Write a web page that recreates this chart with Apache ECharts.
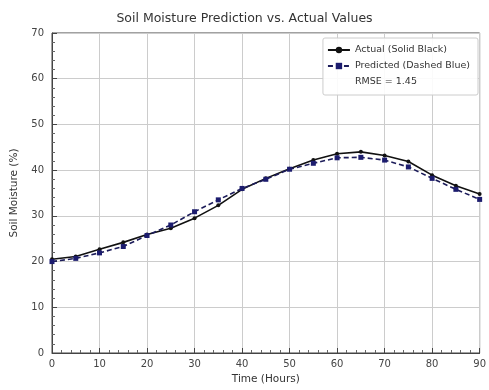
<!DOCTYPE html>
<html><head><meta charset="utf-8">
<script src="https://cdn.jsdelivr.net/npm/echarts@6/dist/echarts.min.js"></script>
<style>html,body{margin:0;padding:0;background:#fff}#c{width:489px;height:390px}</style>
</head><body><div id="c"></div>
<script>
const hours = [0,5,10,15,20,25,30,35,40,45,50,55,60,65,70,75,80,85,90];
const actual = [20.5,21.1,22.7,24.2,25.9,27.3,29.5,32.3,35.8,38.2,40.3,42.2,43.6,44.0,43.2,41.9,38.9,36.6,34.8];
const predicted = [20.0,20.7,21.9,23.3,25.7,28.0,30.9,33.5,36.0,38.0,40.2,41.5,42.7,42.8,42.2,40.7,38.2,35.8,33.6];
const xTicks = [0,10,20,30,40,50,60,70,80,90];
const yTicks = [0,10,20,30,40,50,60,70];
const rmseLabel = 'RMSE = 1.45';
const F = 'DejaVu Sans';
const chart = echarts.init(document.getElementById('c'));
const pair = a => a.map((v,i)=>[hours[i], v]);
chart.setOption({
  animation:false,
  backgroundColor:'#fff',
  title:{text:'Soil Moisture Prediction vs. Actual Values',left:'center',top:7,
    textStyle:{fontFamily:F,fontSize:12.5,fontWeight:'normal',color:'#333'}},
  grid:{left:52,right:7,top:33,bottom:37,show:true,borderColor:'#444',borderWidth:1},
  legend:{
    right:11,top:38,orient:'vertical',itemWidth:22,itemHeight:8,itemGap:6,
    backgroundColor:'rgba(255,255,255,0.9)',borderColor:'#ccc',borderWidth:1,borderRadius:2,padding:[7,8,8,4],
    textStyle:{fontFamily:F,fontSize:9.5,color:'#333'},
    data:[{name:'Actual (Solid Black)'},{name:'Predicted (Dashed Blue)'},{name:rmseLabel,icon:'none'}]
  },
  xAxis:{type:'value',min:0,max:90,interval:10,
    name:'Time (Hours)',nameLocation:'middle',nameGap:20,
    nameTextStyle:{fontFamily:F,fontSize:10.5,color:'#333'},
    axisLine:{lineStyle:{color:'#444'}},
    axisTick:{inside:true,length:5,lineStyle:{color:'#444'}},
    minorTick:{show:true,splitNumber:5,length:3,lineStyle:{color:'#666'}},
    axisLabel:{fontFamily:F,fontSize:10,color:'#444',margin:6,formatter:v=>xTicks.includes(v)?String(v):''},
    splitLine:{show:true,lineStyle:{color:'#ccc',width:1}}},
  yAxis:{type:'value',min:0,max:70,interval:10,
    name:'Soil Moisture (%)',nameLocation:'middle',nameGap:32,
    nameTextStyle:{fontFamily:F,fontSize:10.5,color:'#333'},
    axisLine:{show:true,lineStyle:{color:'#444'}},
    axisTick:{show:true,inside:true,length:5,lineStyle:{color:'#444'}},
    minorTick:{show:true,splitNumber:5,length:3,lineStyle:{color:'#666'}},
    axisLabel:{fontFamily:F,fontSize:10,color:'#444',margin:8,formatter:v=>yTicks.includes(v)?String(v):''},
    splitLine:{show:true,lineStyle:{color:'#ccc',width:1}}},
  series:[
    {name:'Actual (Solid Black)',type:'line',data:pair(actual),
      symbol:'circle',symbolSize:4,
      lineStyle:{color:'#111',width:1.6,type:'solid'},
      itemStyle:{color:'#111'}},
    {name:'Predicted (Dashed Blue)',type:'line',data:pair(predicted),
      symbol:'square',symbolSize:5,
      lineStyle:{color:'#1c1c5a',width:1.6,type:[5,3]},
      itemStyle:{color:'#1c1c6e'}},
    {name:rmseLabel,type:'line',data:[],symbol:'none',lineStyle:{width:0}}
  ]
});
</script></body></html>
